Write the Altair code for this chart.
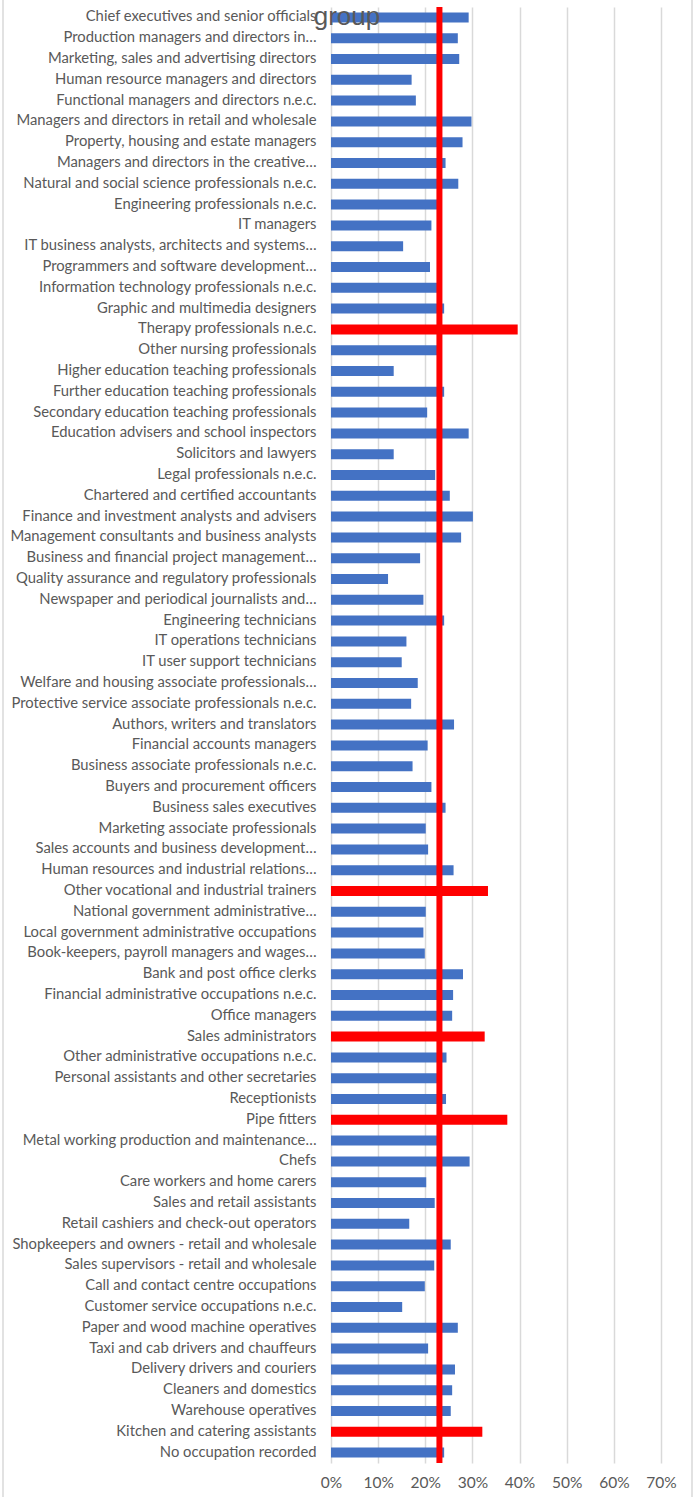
import altair as alt
import pandas as pd

# Occupation groups, top to bottom
occupations = [
    "Chief executives and senior officials",
    "Production managers and directors in…",
    "Marketing, sales and advertising directors",
    "Human resource managers and directors",
    "Functional managers and directors n.e.c.",
    "Managers and directors in retail and wholesale",
    "Property, housing and estate managers",
    "Managers and directors in the creative…",
    "Natural and social science professionals n.e.c.",
    "Engineering professionals n.e.c.",
    "IT managers",
    "IT business analysts, architects and systems…",
    "Programmers and software development…",
    "Information technology professionals n.e.c.",
    "Graphic and multimedia designers",
    "Therapy professionals n.e.c.",
    "Other nursing professionals ",
    "Higher education teaching professionals",
    "Further education teaching professionals",
    "Secondary education teaching professionals",
    "Education advisers and school inspectors",
    "Solicitors and lawyers",
    "Legal professionals n.e.c.",
    "Chartered and certified accountants",
    "Finance and investment analysts and advisers",
    "Management consultants and business analysts",
    "Business and financial project management…",
    "Quality assurance and regulatory professionals",
    "Newspaper and periodical journalists and…",
    "Engineering technicians ",
    "IT operations technicians",
    "IT user support technicians",
    "Welfare and housing associate professionals…",
    "Protective service associate professionals n.e.c.",
    "Authors, writers and translators",
    "Financial accounts managers",
    "Business associate professionals n.e.c.",
    "Buyers and procurement officers",
    "Business sales executives",
    "Marketing associate professionals",
    "Sales accounts and business development…",
    "Human resources and industrial relations…",
    "Other vocational and industrial trainers",
    "National government administrative…",
    "Local government administrative occupations",
    "Book-keepers, payroll managers and wages…",
    "Bank and post office clerks",
    "Financial administrative occupations n.e.c.",
    "Office managers",
    "Sales administrators",
    "Other administrative occupations n.e.c.",
    "Personal assistants and other secretaries",
    "Receptionists",
    "Pipe fitters",
    "Metal working production and maintenance…",
    "Chefs",
    "Care workers and home carers",
    "Sales and retail assistants",
    "Retail cashiers and check-out operators",
    "Shopkeepers and owners - retail and wholesale",
    "Sales supervisors - retail and wholesale ",
    "Call and contact centre occupations",
    "Customer service occupations n.e.c.",
    "Paper and wood machine operatives",
    "Taxi and cab drivers and chauffeurs",
    "Delivery drivers and couriers",
    "Cleaners and domestics",
    "Warehouse operatives",
    "Kitchen and catering assistants",
    "No occupation recorded",
]

# Share per occupation group
shares = [
    0.292, 0.269, 0.272, 0.171, 0.180, 0.298, 0.279, 0.243, 0.270, 0.226,
    0.213, 0.153, 0.210, 0.228, 0.240, 0.396, 0.227, 0.133, 0.240, 0.204,
    0.292, 0.133, 0.221, 0.252, 0.301, 0.276, 0.189, 0.121, 0.196, 0.240,
    0.160, 0.150, 0.184, 0.170, 0.261, 0.205, 0.173, 0.213, 0.243, 0.201,
    0.206, 0.260, 0.333, 0.201, 0.196, 0.199, 0.280, 0.259, 0.257, 0.326,
    0.245, 0.227, 0.244, 0.374, 0.226, 0.294, 0.202, 0.220, 0.166, 0.254,
    0.219, 0.199, 0.151, 0.269, 0.206, 0.263, 0.257, 0.254, 0.321, 0.240,
]

# Groups flagged as well above the overall rate
flagged = [
    "Therapy professionals n.e.c.",
    "Other vocational and industrial trainers",
    "Sales administrators",
    "Pipe fitters",
    "Kitchen and catering assistants",
]

overall_rate = 0.23
x_ticks = [0.0, 0.1, 0.2, 0.3, 0.4, 0.5, 0.6, 0.7]
title_text = "group"

df = pd.DataFrame({"occupation": occupations, "share": shares})
df["flag"] = ["high" if o in flagged else "normal" for o in occupations]

grey_text = "#595959"
font = "Lato"

x_scale = alt.Scale(domain=[0, 0.7], nice=False, zero=True)

bars = alt.Chart(df).mark_bar(size=10).encode(
    x=alt.X(
        "share:Q",
        scale=x_scale,
        axis=alt.Axis(
            values=x_ticks,
            format=".0%",
            title=None,
            grid=True,
            gridColor="#d9d9d9",
            gridWidth=1.5,
            ticks=False,
            domain=False,
            labelFlush=False,
            labelOverlap=False,
            labelFont=font,
            labelFontSize=15.5,
            labelColor=grey_text,
            labelPadding=12,
        ),
    ),
    y=alt.Y(
        "occupation:N",
        sort=None,
        axis=alt.Axis(
            title=None,
            ticks=False,
            domain=False,
            labelFont=font,
            labelFontSize=14.8,
            labelColor=grey_text,
            labelPadding=15,
            labelLimit=400,
        ),
    ),
    color=alt.Color(
        "flag:N",
        scale=alt.Scale(domain=["normal", "high"], range=["#4472C4", "#FF0000"]),
        legend=None,
    ),
)

avg_rule = alt.Chart(pd.DataFrame({"rate": [overall_rate]})).mark_rule(
    color="#FF0000", strokeWidth=6
).encode(x=alt.X("rate:Q", scale=x_scale))

title_mark = alt.Chart(pd.DataFrame({"t": [title_text]})).mark_text(
    font="Liberation Sans", fontSize=26, color=grey_text, align="center",
    baseline="alphabetic"
).encode(text="t:N", x=alt.value(16), y=alt.value(18))

# Light frame around the whole chart
frame = alt.Chart(pd.DataFrame({"side": ["left", "right"], "pos": [-328, 361]})).mark_rule(
    color="#d9d9d9", strokeWidth=1.5
).encode(
    x=alt.X("pos:Q", scale=None),
    y=alt.value(-7),
    y2=alt.value(1490),
)

chart = alt.layer(frame, bars, avg_rule, title_mark).properties(
    width=330,
    height=1456,
    autosize=alt.AutoSizeParams(type="none"),
    padding={"left": 331, "top": 7, "right": 33, "bottom": 34},
    background="white",
).configure_view(stroke=None)

chart.save("out.html", embed_options={"renderer": "svg", "actions": False})
